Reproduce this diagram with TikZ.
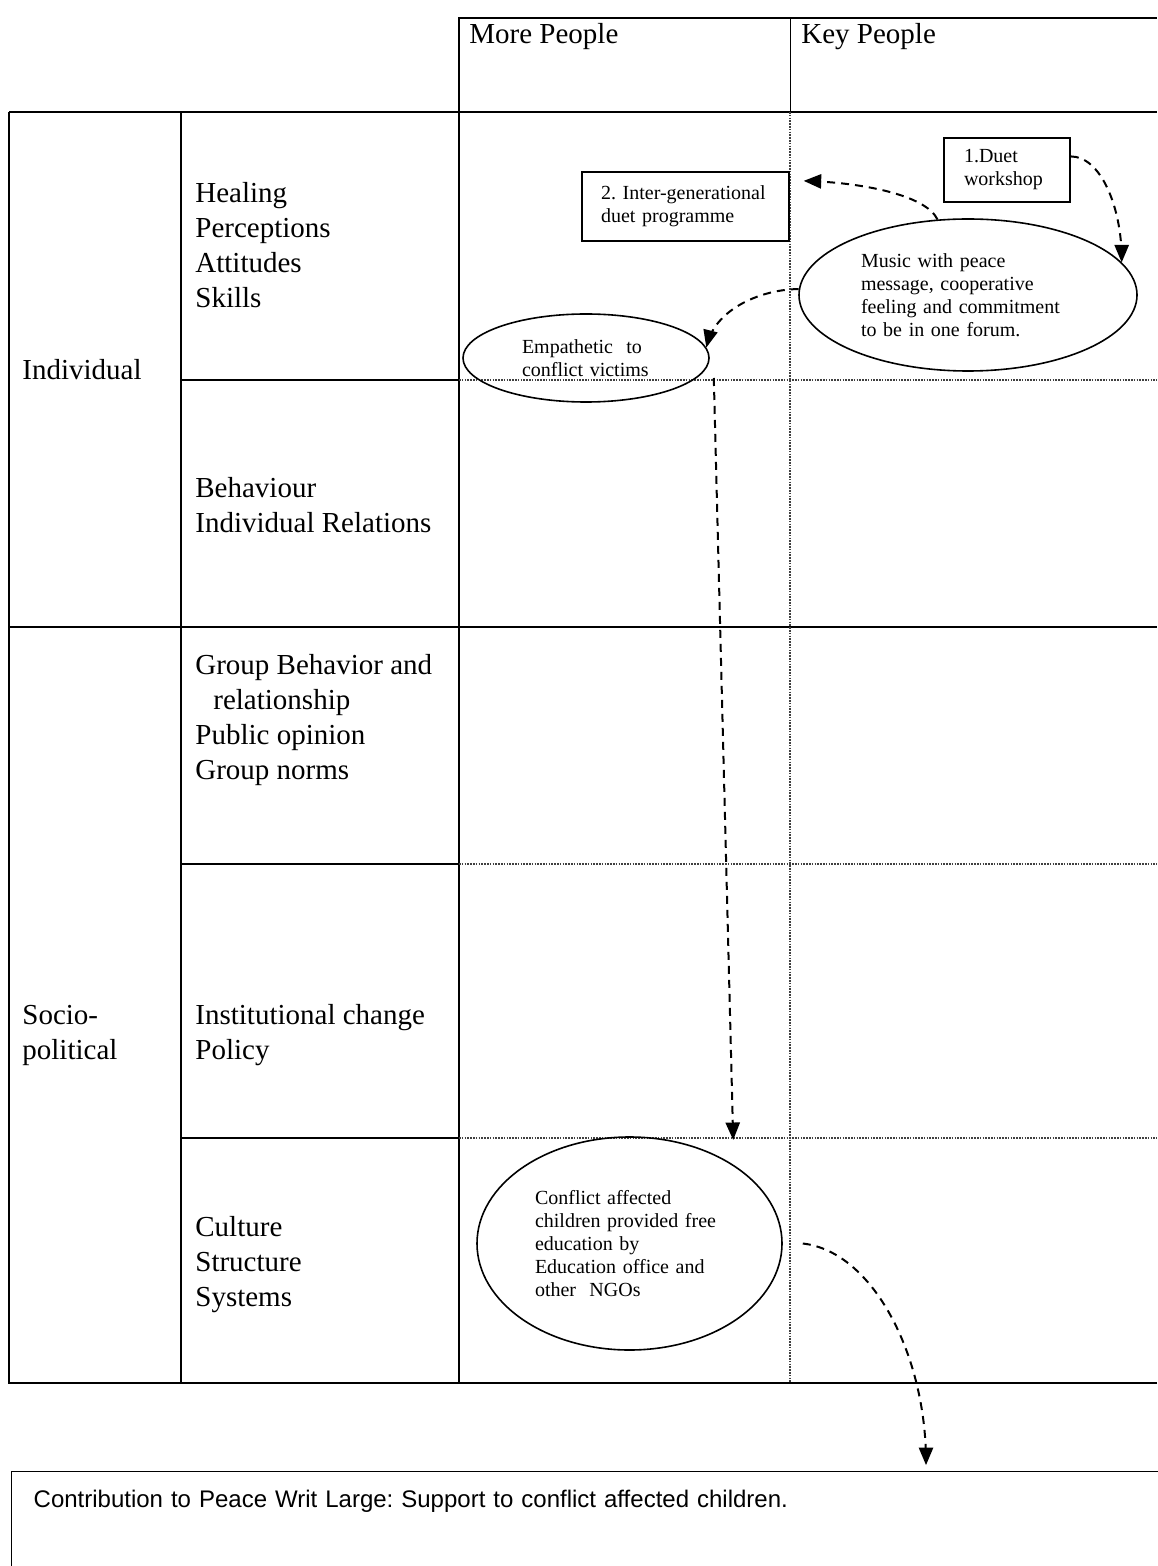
\documentclass[tikz,border=0pt]{standalone}
\usepackage{fontspec}
\setmainfont{Liberation Serif}
\newfontfamily\arialfont{Liberation Sans}
\usetikzlibrary{arrows}
\usetikzlibrary{shapes.geometric}

\begin{document}
\frenchspacing
\begin{tikzpicture}[line cap=butt,line join=miter,>=triangle 45,x=0.5pt,y=-0.5pt,
  rule/.style={line width=1.3pt},
  dotrule/.style={line width=0.9pt,color=darkgray,dash pattern=on 0.8pt off 0.6pt},
  lbl/.style={anchor=west,align=left,inner sep=0pt,font=\fontsize{14.5}{17.5}\selectfont},
  note/.style={font=\fontsize{10}{11.5}\selectfont,align=left},
  oval/.style={draw,ellipse,line width=0.8pt,note,inner sep=0pt},
  notebox/.style={draw,rectangle,line width=0.8pt,note,inner sep=0pt},
  flow/.style={->,line width=1pt,dash pattern=on 4pt off 3pt}]
\useasboundingbox (0,0) rectangle (1157,1566);

%otsikkorivi
\draw[rule] (459,1383) -- (459,18) -- (1157,18);
\draw[line width=0.5pt] (790,18) -- (790,112);
\node[lbl] (more) at (469,37) {More People};
\node[lbl] (key) at (801,37) {Key People};

%taulukko
\draw[rule] (9,112) -- (1157,112);
\draw[rule] (1157,1383) -- (9,1383) -- (9,112);
\draw[rule] (181,112) -- (181,1383);
\draw[rule] (9,627) -- (1157,627);
\foreach \y in {380,864,1138}
{
\draw[rule] (181,\y) -- (459,\y);
\draw[dotrule] (459,\y) -- (1157,\y);
}
\draw[dotrule] (790,112) -- (790,1383);

%rivien nimet
\node[lbl] (indiv) at (22,370) {Individual};
\node[lbl] (socio) at (22,1035) {Socio-\\political};
\node[lbl] (heal) at (195,245) {Healing\\Perceptions\\Attitudes\\Skills};
\node[lbl] (behav) at (195,505) {Behaviour\\Individual Relations};
\node[lbl] (group) at (195,720) {Group Behavior and\\\hspace{9pt}relationship\\Public opinion\\Group norms};
\node[lbl] (inst) at (195,1035) {Institutional change\\Policy};
\node[lbl] (cult) at (195,1265) {Culture\\Structure\\Systems};

%laatikot ja ellipsit
\node[notebox,minimum width=63pt,minimum height=32pt,text width=43pt] (duet) at (1007,170) {1.Duet\\workshop};
\node[notebox,minimum width=103.5pt,minimum height=34.5pt,text width=84.5pt] (inter) at (685.5,206.5) {2. Inter-generational\\duet programme};
\node[oval,minimum width=169pt,minimum height=76pt,text width=107pt] (music) at (968,295) {Music with peace\\message, cooperative\\feeling and commitment\\to be in one forum.};
\node[oval,minimum width=123pt,minimum height=44pt,text width=64pt] (empat) at (586,358) {Empathetic\ \ to\\conflict victims};
\node[oval,minimum width=152.5pt,minimum height=106.5pt,text width=94.5pt] (conflict) at (629.5,1243.5) {Conflict affected\\children provided free\\education by\\Education office and\\other\ \ NGOs};
\node[draw,line width=0.7pt,anchor=north west,inner xsep=11pt,inner ysep=9pt,text width=600pt,text depth=60pt,align=left,font=\arialfont\fontsize{12}{14}\selectfont] (peace) at (11,1471) {Contribution to Peace Writ Large: Support to conflict affected children.};

%nuolet
\draw[flow] (duet.12) .. controls +(30,0) and +(0,-55) .. (music.12);
\draw[flow,shorten >=7pt] (music.112) .. controls +(-12,-25) and +(70,2) .. (inter.14);
\draw[flow] (music.178) .. controls +(-35,0) and +(10,-40) .. (empat.5);
\draw[flow,shorten >=12.5pt] ([xshift=2pt,yshift=-10pt]empat.east) -- (conflict.37);
\draw[flow] ([xshift=10pt]conflict.east) .. controls +(70,8) and +(0,-110) .. ([xshift=457.5pt,yshift=3pt]peace.north west);
\end{tikzpicture}
\end{document}
